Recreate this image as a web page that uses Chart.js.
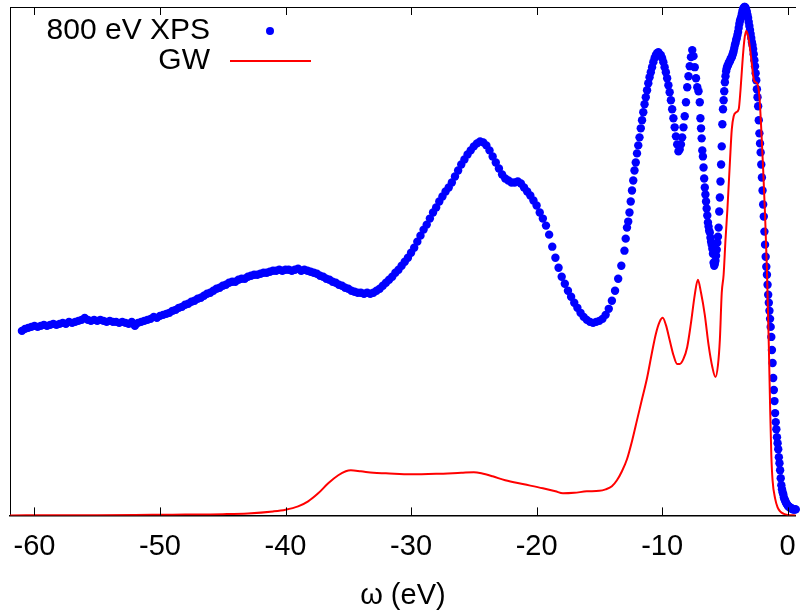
<!DOCTYPE html>
<html>
<head>
<meta charset="utf-8">
<script src="https://cdn.jsdelivr.net/npm/chart.js@4"></script>
<style>
  html, body { margin: 0; padding: 0; background: #fff; overflow: hidden; }
  canvas { display: block; }
</style>
</head>
<body>
<canvas id="spectrum" width="800" height="613"></canvas>
<script>
// x axis ticks (eV)
const xTicks = [-60, -50, -40, -30, -20, -10, 0];

// 800 eV XPS (arb. units), three sampling grids
const xpsCoarseStart = -61.0, xpsCoarseStep = 0.25;
const xpsCoarse = [
  184, 186, 187, 188, 189, 188, 189, 190, // -61
  189, 190, 191, 190, 191, 192, 191, 193, // -59
  192, 193, 194, 195, 197, 195, 194, 195, // -57
  194, 195, 194, 193, 194, 193, 193, 192, // -55
  193, 192, 191, 193, 189, 192, 193, 194, // -53
  195, 196, 198, 197, 199, 200, 201, 202, // -51
  204, 205, 207, 208, 210, 211, 213, 214, // -49
  216, 217, 219, 221, 222, 224, 226, 227, // -47
  229, 230, 232, 233, 233, 235, 236, 236, // -45
  238, 239, 240, 240, 241, 242, 242, 243, // -43
  244, 244, 245, 244, 245, 245, 244, 245, // -41
  246, 244, 245, 244, 243, 242, 241, 239, // -39
  238, 236, 235, 233, 232, 230, 229, 227, // -37
  226, 224, 223, 222, 222, 221, 222, 221, // -35
  222, 224, 226, 229, 232, 235, 238, 242, // -33
  245, 249, 253, 257, 262, 267, 273, 279, // -31
  285, 290, 296, 302, 307, 313, 318, 323, // -29
  327, 332, 338, 344, 350, 355, 360, 364, // -27
  368, 371, 373, 372, 369, 364, 358, 352, // -25
  346, 340, 336, 334, 332, 332, 333, 331, // -23
  327, 323, 319, 314, 309, 302, 296, 289, // -21
  280, 268, 257, 247, 238, 231, 224, 218, // -19
  212, 207, 202, 198, 195, 193, 192, 193, // -17
  194, 196, 200, 206, 214, 224, 236, 249  // -15
];

const xpsMidStart = -13.0, xpsMidStep = 0.1;
const xpsMid = [
  264, 276, 287, 293, 302, 313, 324, 334, 344, 352, // -13.0
  361, 369, 377, 386, 394, 402, 410, 417, 424, 431, // -12.0
  437, 442, 447, 452, 456, 459, 461, 462, 460, 459, // -11.0
  456, 452, 447, 442, 436, 429, 422, 414, 405, 396, // -10.0
  387, 378, 370, 363, 365, 370, 377, 387, 398, 412, // -9.0
  427, 438, 448, 457, 464, 458, 447, 436, 427, 423  // -8.0
];

const xpsFineStart = -7.0, xpsFineStep = 0.05;
const xpsFine = [
  412, 396, 386, 376, 364, 358, 347, 336, 327, 320, 313, 306, 299, 292, 288, 284, 282, 277, 273, 270, // -7
  266, 261, 252, 249, 251, 254, 259, 265, 272, 278, 287, 303, 317, 333, 350, 368, 390, 405, 414, 423, // -6
  432, 438, 443, 446, 448, 449, 451, 452, 453, 455, 456, 457, 459, 461, 463, 466, 469, 471, 474, 476, // -5
  479, 482, 486, 490, 493, 495, 497, 500, 503, 505, 506, 507, 507, 506, 504, 502, 499, 496, 492, 488, // -4
  484, 480, 476, 472, 469, 465, 460, 454, 448, 441, 434, 425, 417, 408, 394, 381, 371, 362, 350, 337, // -3
  324, 310, 298, 283, 270, 258, 248, 240, 230, 220, 212, 204, 196, 188, 178, 165, 152, 137, 125, 114, // -2
  102, 93, 86, 78, 72, 66, 58, 52, 45, 37, 30, 26, 23, 21, 18, 16, 15, 13, 12, 11,                   // -1
  10, 9, 9, 8, 8, 7, 7, 7, 6, 6, 6, 6, 6, 6                                                          // 0
];

// GW spectral function
const gwEnergy = [
  -62, -58, -55, -52, -50, -48, -46, -45, -43, -41, -40, -39, -38.2, -37.4, -36.6, -35.8, -35.2, -34.8,
  -34, -33, -32, -30, -28, -26, -25, -24.4, -23.5, -22.5, -21, -19.5, -18.5, -17.9, -17, -16, -15,
  -14.5, -14, -13.6, -13.2, -12.8, -12.4, -12, -11.6, -11.2, -10.8, -10.5, -10.2, -9.95, -9.7, -9.4,
  -9.1, -8.8, -8.6, -8.3, -8, -7.7, -7.4, -7.15, -6.9, -6.6, -6.3, -6, -5.75, -5.55, -5.4, -5.25,
  -5.1, -4.95, -4.8, -4.6, -4.45, -4.3, -4.1, -3.9, -3.75, -3.6, -3.45, -3.3, -3.15, -3, -2.85, -2.7,
  -2.55, -2.4, -2.25, -2.1, -1.95, -1.8, -1.65, -1.5, -1.4, -1.3, -1.2, -1, -0.8, -0.6, -0.3, 0, 0.65
];
const gwIntensity = [
  0, 0.1, 0.2, 0.4, 0.6, 0.8, 1.0, 1.2, 2.0, 4, 5.7, 9, 14, 22, 32, 40, 44, 45,
  44, 42.5, 42, 41, 41.5, 42.5, 43, 42, 39, 35, 31, 27, 24, 22, 22.5, 24, 24.5,
  26, 29, 35, 44, 56, 74, 95, 116, 137, 163, 181, 193, 197, 190, 175,
  160, 151, 151, 156, 168, 192, 220, 235, 222, 200, 170, 148, 138, 150, 175, 222,
  240, 275, 305, 352, 385, 398, 402, 405, 425, 452, 474, 483, 478, 466, 450, 435,
  432, 430, 418, 385, 345, 300, 245, 170, 110, 60, 35, 17, 8, 4, 1.5, 0.5, 0
];

function onGrid(start, step, values) {
  return values.map((v, i) => ({ x: +(start + i * step).toFixed(2), y: v }));
}

const xpsPoints = [
  ...onGrid(xpsCoarseStart, xpsCoarseStep, xpsCoarse),
  ...onGrid(xpsMidStart, xpsMidStep, xpsMid),
  ...onGrid(xpsFineStart, xpsFineStep, xpsFine)
];
const gwPoints = gwEnergy.map((e, i) => ({ x: e, y: gwIntensity[i] }));

const FONT = "'Liberation Sans', Arial, sans-serif";

// gnuplot style ticks pointing inwards, bottom and mirrored on top
const innerTicks = {
  id: "innerTicks",
  afterDatasetsDraw(chart) {
    const { ctx, chartArea, scales } = chart;
    ctx.save();
    ctx.strokeStyle = "#000";
    ctx.lineWidth = 1;
    scales.x.ticks.forEach((t) => {
      const px = Math.round(scales.x.getPixelForValue(t.value)) + 0.5;
      ctx.beginPath();
      ctx.moveTo(px, chartArea.bottom);
      ctx.lineTo(px, chartArea.bottom - 8);
      ctx.moveTo(px, chartArea.top);
      ctx.lineTo(px, chartArea.top + 8);
      ctx.stroke();
    });
    ctx.restore();
  }
};

// key in the top left corner: text first, sample on the right
const keyBox = {
  id: "keyBox",
  afterDraw(chart) {
    const { ctx } = chart;
    ctx.save();
    ctx.font = "30px " + FONT;
    ctx.textAlign = "right";
    ctx.textBaseline = "middle";
    ctx.fillStyle = "#000";
    chart.data.datasets.forEach((ds, i) => {
      const y = 31 + i * 30;
      ctx.fillText(ds.label, 210, y);
      if (ds.showLine === false) {
        ctx.fillStyle = ds.backgroundColor;
        ctx.beginPath();
        ctx.arc(270, y, 4, 0, Math.PI * 2);
        ctx.fill();
        ctx.fillStyle = "#000";
      } else {
        ctx.strokeStyle = ds.borderColor;
        ctx.lineWidth = ds.borderWidth;
        ctx.beginPath();
        ctx.moveTo(230, y);
        ctx.lineTo(311, y);
        ctx.stroke();
      }
    });
    ctx.restore();
  }
};

new Chart(document.getElementById("spectrum"), {
  type: "line",
  data: {
    datasets: [
      {
        label: "800 eV XPS",
        data: xpsPoints,
        showLine: false,
        pointRadius: 4.2,
        pointBorderWidth: 0,
        backgroundColor: "#0000ff",
        borderColor: "#0000ff",
        clip: false,
        order: 1
      },
      {
        label: "GW",
        data: gwPoints,
        borderColor: "#ff0000",
        borderWidth: 2,
        pointRadius: 0,
        fill: false,
        cubicInterpolationMode: "monotone",
        order: 0
      }
    ]
  },
  options: {
    responsive: false,
    animation: false,
    layout: { padding: { left: 10, top: 7, right: 0, bottom: 0 } },
    plugins: { legend: { display: false }, tooltip: { enabled: false } },
    scales: {
      x: {
        type: "linear",
        position: "bottom",
        min: -61.95,
        max: 0.65,
        afterBuildTicks: (scale) => {
          scale.ticks = xTicks.map((v) => ({ value: v }));
        },
        afterFit: (scale) => {
          // let the edge labels overflow like the original, keep the plot full width
          scale.paddingLeft = 0;
          scale.paddingRight = 0;
        },
        grid: { display: false, drawTicks: false },
        border: { display: true, color: "#000", width: 1.5 },
        ticks: {
          color: "#000",
          font: { family: FONT, size: 29 },
          padding: 14,
          maxRotation: 0,
          callback: (v) => String(v)
        },
        title: {
          display: true,
          text: "ω (eV)",
          color: "#000",
          font: { family: FONT, size: 29 },
          padding: { top: 0, bottom: 0 }
        }
      },
      x2: {
        type: "linear",
        position: "top",
        grid: { display: false, drawTicks: false },
        border: { display: true, color: "#000", width: 1 },
        ticks: { display: false }
      },
      y: {
        min: 0,
        max: 507,
        grid: { display: false, drawTicks: false },
        border: { display: true, color: "#000", width: 1 },
        ticks: { display: false }
      }
    }
  },
  plugins: [innerTicks, keyBox]
});
</script>
</body>
</html>
